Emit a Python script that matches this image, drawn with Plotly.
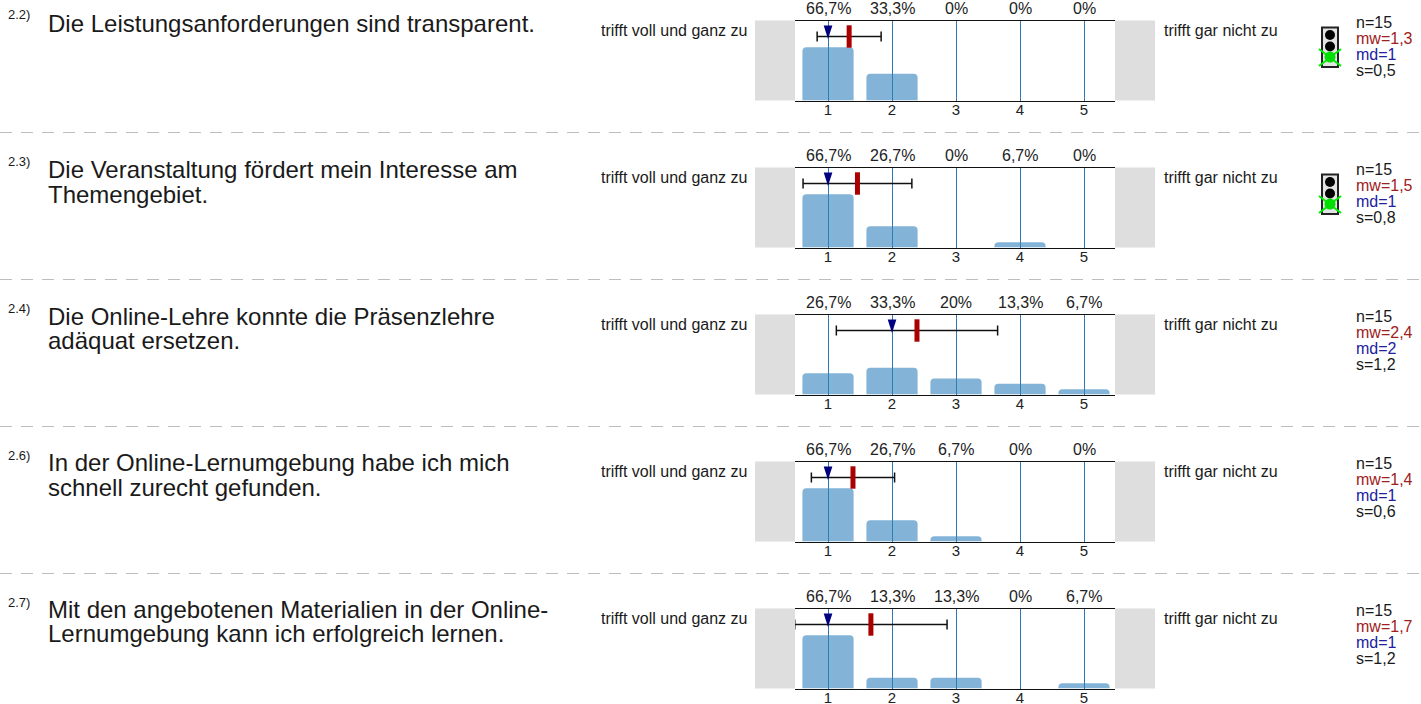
import plotly.graph_objects as go

W, H = 1421, 704
FONT = "Liberation Sans"

item_ids = ["2.2)", "2.3)", "2.4)", "2.6)", "2.7)"]
questions = [
    ["Die Leistungsanforderungen sind transparent."],
    ["Die Veranstaltung fördert mein Interesse am", "Themengebiet."],
    ["Die Online-Lehre konnte die Präsenzlehre", "adäquat ersetzen."],
    ["In der Online-Lernumgebung habe ich mich", "schnell zurecht gefunden."],
    ["Mit den angebotenen Materialien in der Online-", "Lernumgebung kann ich erfolgreich lernen."],
]
scale = [1, 2, 3, 4, 5]
pct_1 = [66.7, 33.3, 0, 0, 0]
pct_2 = [66.7, 26.7, 0, 6.7, 0]
pct_3 = [26.7, 33.3, 20, 13.3, 6.7]
pct_4 = [66.7, 26.7, 6.7, 0, 0]
pct_5 = [66.7, 13.3, 13.3, 0, 6.7]
pcts = [pct_1, pct_2, pct_3, pct_4, pct_5]
means = [1.33, 1.46, 2.39, 1.39, 1.67]
spreads = [0.50, 0.85, 1.26, 0.65, 1.19]
medians = [1, 1, 2, 1, 1]
mw_labels = ["1,3", "1,5", "2,4", "1,4", "1,7"]
md_labels = ["1", "1", "2", "1", "1"]
s_labels = ["0,5", "0,8", "1,2", "0,6", "1,2"]
n_labels = ["15", "15", "15", "15", "15"]
has_light = [True, True, False, False, False]
left_pole = "trifft voll und ganz zu"
right_pole = "trifft gar nicht zu"


def fx(px):
    return px / W


def fy(py):
    return 1 - py / H


def pct_text(v):
    return (f"{v:g}".replace(".", ",")) + "%"


PITCH = 147
TOP0 = 20.5
PANEL_H = 80
AX_L, AX_R = 795, 1115
GREY = "#dedede"

fig = go.Figure()
layout = dict(
    width=W, height=H, margin=dict(l=0, r=0, t=0, b=0, pad=0), autosize=False,
    paper_bgcolor="white", plot_bgcolor="white", showlegend=False, hovermode=False,
    bargap=0.2, font=dict(family=FONT, color="#222222"),
)
shapes, annots = [], []


def text(px, py, s, size, color="#1a1a1a", anchor="left"):
    annots.append(dict(xref="paper", yref="paper", x=fx(px), y=fy(py), text=s, showarrow=False,
                       xanchor=anchor, yanchor="middle", align="left",
                       font=dict(family=FONT, size=size, color=color), borderpad=0, borderwidth=0))


for i in range(5):
    top = TOP0 + PITCH * i
    idx = "" if i == 0 else str(i + 1)
    xn, yn = f"x{idx}", f"y{idx}"
    layout[f"xaxis{idx}"] = dict(
        domain=[fx(AX_L), fx(AX_R)], range=[0.484, 5.484], anchor=yn, automargin=False,
        tickmode="array", tickvals=scale, ticktext=[str(v) for v in scale],
        showgrid=True, gridcolor="#2e78b7", gridwidth=1.2, zeroline=False,
        showline=True, mirror=True, linecolor="#111111", linewidth=1.3,
        ticks="", ticklabelstandoff=-5, tickfont=dict(family=FONT, size=15, color="#222222"),
    )
    layout[f"yaxis{idx}"] = dict(
        domain=[fy(top + PANEL_H), fy(top)], range=[0, 100], anchor=xn, automargin=False,
        visible=False, showgrid=False, zeroline=False,
    )
    fig.add_trace(go.Bar(x=scale, y=pcts[i], width=0.8, xaxis=xn, yaxis=yn,
                         marker=dict(color="rgba(49,130,189,0.6)", line_width=0, cornerradius=4)))
    for v, p in zip(scale, pcts[i]):
        annots.append(dict(xref=xn, yref=f"{yn} domain", x=v, y=1, yshift=12, text=pct_text(p), showarrow=False,
                           xanchor="center", yanchor="middle",
                           font=dict(family=FONT, size=16, color="#222222"), borderpad=0, borderwidth=0))
    fig.add_trace(go.Scatter(x=[means[i]], y=[80], xaxis=xn, yaxis=yn, mode="markers", cliponaxis=False,
                             error_x=dict(type="data", array=[spreads[i]], color="#111111", thickness=1.5, width=5),
                             marker=dict(symbol="line-ns", size=16, color="#aa0000",
                                         line=dict(color="#aa0000", width=5))))
    fig.add_trace(go.Scatter(x=[medians[i]], y=[77], xaxis=xn, yaxis=yn, mode="markers", cliponaxis=False,
                             marker=dict(symbol="arrow", angle=180, size=14, color="#000080", line_width=0)))

    for x0, x1 in ((-0.125, 0), (1, 1.125)):
        shapes.append(dict(type="rect", xref=f"{xn} domain", yref=f"{yn} domain", x0=x0, x1=x1, y0=0, y1=1,
                           fillcolor=GREY, line_width=0, layer="below"))

    text(8, top - 6, item_ids[i], 13)
    for j, line in enumerate(questions[i]):
        text(48, top + 2.5 - 0.5 * i + 24.5 * j, line, 24)
    text(601, top + 10, left_pole, 16)
    text(1164, top + 10, right_pole, 16)
    text(1356, top + 1.8, "n=" + n_labels[i], 16, "#1a1a1a")
    text(1356, top + 17.8, "mw=" + mw_labels[i], 16, "#a02020")
    text(1356, top + 33.8, "md=" + md_labels[i], 16, "#2020a0")
    text(1356, top + 49.8, "s=" + s_labels[i], 16, "#1a1a1a")

    if has_light[i]:
        def pr(x0, y0, x1, y1, **kw):
            shapes.append(dict(xref="paper", yref="paper", x0=fx(x0), x1=fx(x1),
                               y0=fy(top + y0), y1=fy(top + y1), **kw))
        pr(1322, 7, 1338, 46.5, type="rect", fillcolor="#e4e4e4", line=dict(color="#222222", width=2))
        pr(1325, 9.5, 1335, 19.5, type="circle", fillcolor="black", line_width=0)
        pr(1325, 21, 1335, 31, type="circle", fillcolor="black", line_width=0)
        pr(1319, 28.5, 1341, 45.5, type="line", line=dict(color="#00ee00", width=2))
        pr(1319, 45.5, 1341, 28.5, type="line", line=dict(color="#00ee00", width=2))
        pr(1324.5, 31, 1335.5, 42, type="circle", fillcolor="#00e000", line_width=0)

for i in range(4):
    yy = 132.5 + PITCH * i
    shapes.append(dict(type="line", xref="paper", yref="paper", x0=0, x1=1, y0=fy(yy), y1=fy(yy),
                       line=dict(color="#bdbdbd", width=1.2, dash="12px,9px")))

layout["shapes"] = shapes
layout["annotations"] = annots
fig.update_layout(**layout)
fig.write_html("out.html", config=dict(displayModeBar=False),
               post_script="document.body.style.margin='0';")
